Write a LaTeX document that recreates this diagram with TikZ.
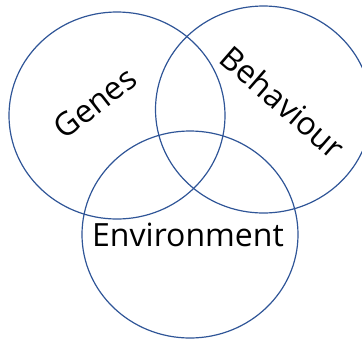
\documentclass[tikz,border=0pt]{standalone}
\usepackage{fontspec}
\setmainfont{Open Sans}
\usetikzlibrary{shapes.geometric}
\definecolor{ringblue}{HTML}{2F5597}
\tikzset{
    ring/.style={ellipse, draw=ringblue, line width=1.2pt, minimum width=216pt, minimum height=207pt, inner sep=0pt},
    word/.style={font=\fontsize{32}{38}\selectfont, inner sep=0pt}
}
\begin{document}
\begin{tikzpicture}[x=1pt, y=-1pt]
    \useasboundingbox (0,0) rectangle (362,338);
    \clip (0,0) rectangle (362,338);
    \node[ring] (genes) at (117,115.5) {};
    \node[ring] (behaviour) at (263.5,109.5) {};
    \node[ring] (environment) at (190,234.5) {};
    \node[word, rotate=38] (geneslabel) at (95,103) {Genes};
    \node[word, rotate=-41] (behaviourlabel) at (283,102) {Behaviour};
    \node[word, anchor=base] (environmentlabel) at (188,246.7) {Environment};
\end{tikzpicture}
\end{document}
